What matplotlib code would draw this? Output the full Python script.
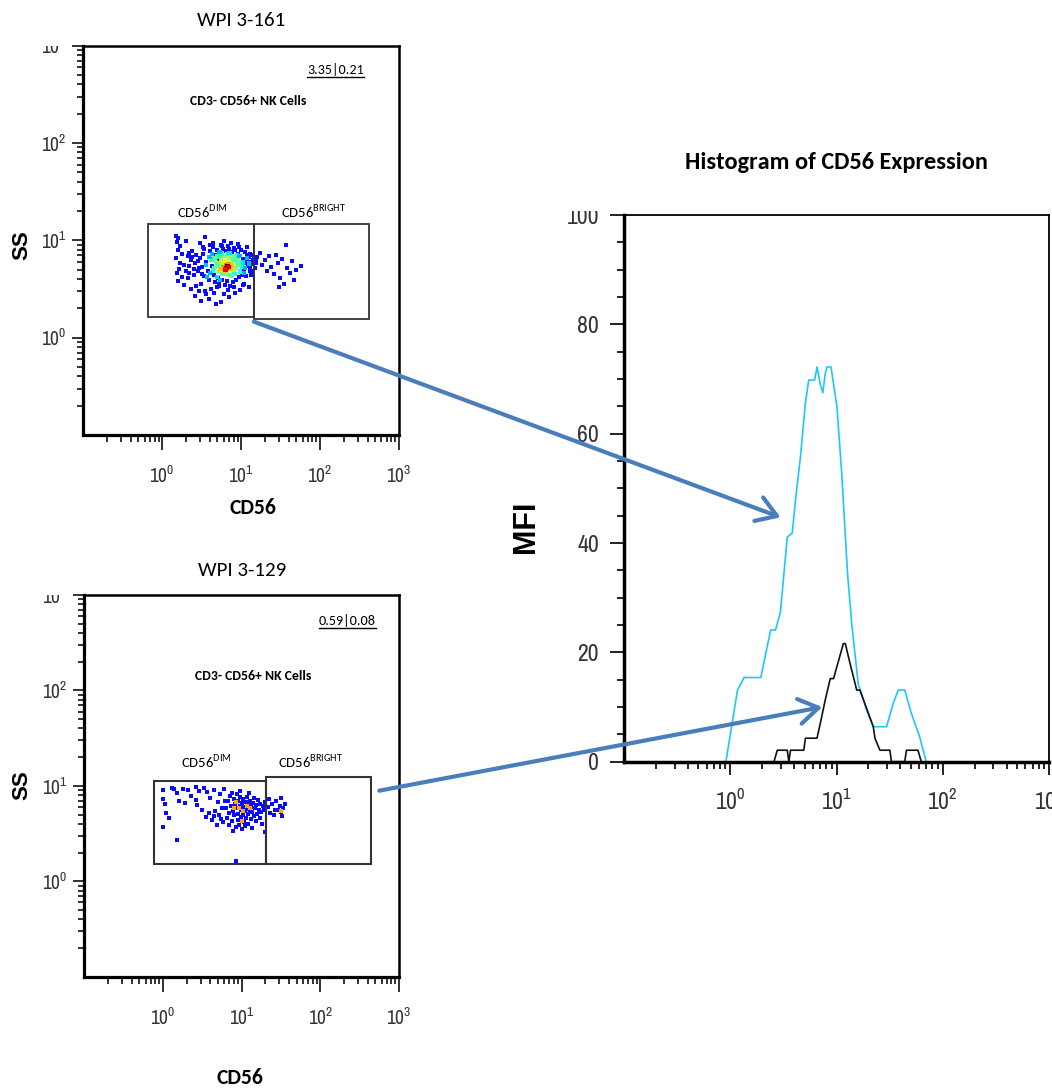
import matplotlib
matplotlib.use("Agg")
import matplotlib.pyplot as plt
import numpy as np
from matplotlib.patches import Rectangle, ConnectionPatch
from matplotlib.ticker import FixedLocator, LogLocator, NullFormatter, FuncFormatter, MultipleLocator
from matplotlib.transforms import Bbox, TransformedBbox
from matplotlib.lines import Line2D

NARROW = ['Liberation Sans Narrow', 'Archivo Narrow', 'DejaVu Sans']
CALI = ['Carlito', 'Lato', 'DejaVu Sans']
ARIAL = ['Liberation Sans', 'DejaVu Sans']

# ---------------- data ----------------
# WPI 3-161 : CD56 vs SS events (blue = low density, core coloured by density level)
top_x = [1.5, 1.6, 1.55, 1.7, 1.6, 1.8, 1.5, 1.7, 1.65, 1.55, 1.8, 1.6, 1.9, 2.0, 2.1, 2.2, 2.0, 2.3, 2.4, 2.6,
         2.5, 2.8, 2.9, 3.1, 3.3, 3.0, 3.6, 3.9, 4.2, 4.5, 4.8, 5.2, 3.5, 4.4, 5.5, 6.1, 6.8, 7.4, 8.2, 9.0,
         10.1, 11.2, 12.5, 11.0, 9.6, 8.3, 7.1, 6.0, 5.6, 12.0, 13.5, 14.5, 15.2, 14.8, 16.0, 17.5, 18.5, 19.8, 21.0, 22.5,
         24.0, 26.0, 27.5, 29.0, 31.0, 33.0, 35.0, 38.0, 41.0, 44.0, 47.0, 50.0, 58.0, 37.0, 30.0,
         2.6, 2.8, 3.0, 3.2, 3.4, 3.3, 3.6, 3.8, 3.9, 4.0, 4.1, 4.3, 4.5, 4.6, 4.7, 4.9, 5.0, 5.1, 5.3, 5.5,
         5.7, 5.9, 6.2, 6.4, 6.7, 7.0, 7.3, 7.6, 7.9, 8.4, 8.7, 9.1, 9.4, 9.8, 10.2, 10.5, 10.9, 11.3, 11.8, 12.2,
         12.8, 13.2, 12.6, 11.5, 2.3, 2.5, 2.7, 3.1, 13.8, 14.2, 2.2, 2.9, 3.7, 4.9, 13.0, 15.6, 12.9, 14.0,
         1.9, 2.4, 2.1, 3.4, 2.7, 3.2, 4.4, 5.8, 6.9, 8.0, 9.3, 10.7, 11.9, 13.4, 15.0, 2.2, 3.5, 4.0]
top_y = [11.2, 10.5, 9.6, 8.8, 7.9, 7.2, 6.6, 5.9, 5.1, 4.6, 4.2, 3.8, 3.5, 9.9, 6.9, 5.4, 4.9, 3.2, 7.8, 2.7,
         4.4, 6.2, 3.0, 2.4, 8.6, 9.4, 2.8, 2.5, 3.2, 2.9, 2.2, 3.4, 10.8, 9.5, 9.0, 9.8, 8.7, 9.3, 8.4, 9.1,
         8.0, 7.6, 3.3, 3.6, 3.1, 2.9, 2.6, 2.8, 2.3, 8.5, 7.0, 6.5, 5.9, 5.2, 6.8, 7.5, 5.6, 6.3, 4.9, 6.9,
         5.3, 4.5, 7.1, 5.9, 4.1, 6.4, 3.6, 5.2, 4.6, 6.1, 3.9, 5.0, 5.5, 8.9, 3.3,
         5.8, 4.9, 6.6, 5.3, 4.3, 7.3, 6.0, 4.8, 3.9, 7.7, 6.5, 5.5, 4.4, 3.7, 7.0, 6.1, 8.0, 4.1, 3.6, 7.4,
         3.9, 8.1, 3.5, 7.8, 3.8, 8.2, 3.4, 7.6, 3.7, 7.9, 3.9, 7.3, 4.2, 6.9, 4.4, 6.4, 5.0, 5.8, 6.2, 5.5,
         4.8, 6.0, 6.8, 4.3, 6.3, 5.1, 7.0, 3.6, 5.7, 6.3, 4.6, 5.2, 4.2, 3.3, 7.2, 6.1, 5.3, 4.9,
         5.6, 6.7, 4.1, 8.1, 3.4, 4.5, 8.6, 8.8, 3.1, 3.3, 8.6, 3.5, 7.1, 4.4, 6.1, 7.4, 3.0, 9.0]
top_core_x = [4.2, 4.6, 5.0, 5.2, 5.4, 5.6, 5.8, 6.0, 6.2, 6.3, 6.5, 6.8, 7.0, 7.2, 7.5, 7.8, 8.0, 8.3, 8.6, 9.0,
              9.3, 9.7, 10.0, 10.4, 4.8, 5.7, 6.6, 8.8, 4.4, 7.6,
              3.6, 3.9, 4.0, 4.3, 4.9, 5.3, 5.1, 5.9, 6.6, 7.1, 7.9, 8.2, 8.9, 9.5, 10.6, 11.2, 11.8, 10.8, 3.7, 4.6,
              5.4, 12.5,
              5.9, 6.4, 6.9, 7.3, 6.1, 7.7, 5.5, 6.5, 6.7, 6.3, 7.0]
top_core_y = [6.3, 5.2, 6.8, 4.7, 5.8, 6.5, 4.5, 5.6, 6.9, 4.8, 6.1, 5.0, 6.6, 4.4, 5.8, 6.8, 4.9, 6.1, 5.2, 6.5,
              5.6, 4.8, 6.0, 5.3, 5.9, 7.3, 7.2, 7.0, 4.9, 4.3,
              5.6, 6.7, 4.6, 7.2, 4.2, 7.6, 5.5, 6.1, 4.5, 7.4, 6.3, 4.5, 5.8, 6.9, 5.9, 5.2, 6.6, 4.6, 4.2, 6.6,
              3.9, 5.8,
              5.3, 5.5, 5.7, 5.1, 4.9, 5.5, 5.1, 5.2, 5.4, 5.0, 5.3]
top_core_lvl = [0.40, 0.45, 0.40, 0.50, 0.55, 0.50, 0.45, 0.60, 0.50, 0.55, 0.65, 0.60, 0.55, 0.45, 0.60, 0.50, 0.55, 0.55, 0.50, 0.45,
                0.50, 0.40, 0.45, 0.40, 0.50, 0.40, 0.45, 0.40, 0.40, 0.45,
                0.32, 0.30, 0.30, 0.30, 0.35, 0.30, 0.45, 0.60, 0.50, 0.35, 0.45, 0.40, 0.45, 0.30, 0.35, 0.30, 0.30, 0.30, 0.30, 0.45,
                0.30, 0.32,
                0.75, 0.80, 0.75, 0.70, 0.70, 0.70, 0.70, 0.95, 1.00, 0.90, 0.92]

# WPI 3-129
bot_x = [1.0, 1.0, 1.05, 1.0, 1.1, 1.2, 1.3, 1.4, 1.5, 1.52, 1.6, 1.8, 1.9, 2.1, 2.3, 2.6, 2.7, 2.6, 2.9, 3.1,
         3.3, 3.6, 3.5, 3.8, 4.0, 4.2, 4.4, 4.6, 4.8, 5.0, 5.2, 5.3, 5.6, 5.8, 6.0, 6.1, 8.6, 4.5, 5.5,
         6.3, 6.5, 6.7, 6.9, 7.0, 7.2, 7.4, 7.5, 7.7, 7.8, 8.0, 8.1, 8.3, 8.4, 8.6, 8.7, 8.9, 9.0, 9.1, 9.3,
         9.4, 9.6, 9.7, 9.9, 10.0, 10.1, 10.3, 10.4, 10.6, 10.8, 10.9, 11.1, 11.3, 11.4, 11.6, 11.8, 12.0, 12.2, 12.4, 12.6,
         12.8, 13.0, 13.3, 13.5, 13.7, 14.0, 14.2, 14.5, 14.8, 15.1, 15.4, 15.8, 16.1, 16.5, 16.9, 17.3, 17.8, 18.2, 18.7, 19.2,
         19.8, 20.0, 9.5, 7.6, 12.3, 21.5, 23.0, 24.5, 26.0, 27.0, 29.0, 31.0, 31.5, 32.0, 33.0, 34.0, 36.0, 26.5, 22.0]
bot_y = [9.0, 7.2, 6.5, 3.7, 5.2, 4.6, 9.4, 9.3, 8.5, 2.7, 7.0, 9.2, 6.6, 9.0, 7.8, 9.8, 6.3, 7.1, 8.9, 5.6,
         9.5, 8.6, 4.7, 5.2, 7.4, 4.4, 9.0, 5.5, 3.9, 6.7, 4.9, 8.3, 5.9, 4.2, 9.2, 7.0, 1.65, 4.8, 4.5,
         5.8, 4.6, 6.9, 3.9, 5.2, 7.9, 6.1, 4.3, 3.4, 5.5, 7.3, 4.9, 6.4, 3.7, 5.8, 8.2, 4.4, 6.9, 5.1, 3.9,
         6.2, 7.6, 4.7, 5.6, 3.5, 6.6, 5.0, 7.2, 4.2, 6.0, 5.4, 3.8, 6.8, 4.6, 5.7, 7.7, 5.1, 4.0, 6.3, 5.5,
         7.0, 4.5, 6.0, 3.6, 5.3, 6.6, 4.8, 7.4, 5.8, 4.3, 6.3, 5.1, 7.1, 5.6, 4.6, 6.5, 5.3, 4.0, 6.1, 5.6,
         6.8, 3.3, 8.8, 8.5, 8.4, 6.0, 5.2, 6.5, 4.9, 7.0, 5.6, 6.2, 5.3, 7.5, 4.8, 5.9, 6.4, 5.6, 7.3]
bot_hi_x = [9.2, 10.5, 11.7, 10.2, 8.5, 31.5, 7.9, 12.9]
bot_hi_y = [5.9, 5.5, 6.2, 4.3, 6.8, 5.5, 5.9, 5.8]

# gates (x0, y0, x1, y1)
top_gates = [(0.67, 1.64, 14.4, 14.7), (14.4, 1.56, 417, 14.7)]
bot_gates = [(0.78, 1.53, 20.4, 11.2), (20.4, 1.53, 436, 12.4)]

# histogram of CD56 expression
cyan_x = [0.91, 1.17, 1.35, 1.94, 2.40, 2.67, 2.97, 3.20, 3.44, 3.83, 4.11, 4.58, 5.09, 5.47, 6.22, 6.56,
          7.04, 7.44, 7.84, 8.12, 8.88, 10.1, 11.2, 12.7, 13.9, 16.0, 19.2, 22.2, 29.6, 34.2, 38.1, 43.9,
          50.7, 60.5, 69.9]
cyan_y = [0, 13.1, 15.4, 15.4, 24.1, 24.1, 27.4, 34.4, 41.1, 41.8, 47.8, 55.8, 65.5, 69.8, 69.8, 72.2,
          69.0, 67.5, 71.0, 72.2, 72.2, 64.9, 52.7, 34.4, 25.3, 14.3, 9.45, 6.4, 6.4, 10.7, 13.1, 13.1,
          8.8, 4.6, 0]
black_x = [2.58, 2.77, 3.44, 3.56, 3.69, 4.92, 5.10, 6.55, 7.04, 7.84, 8.73, 9.38, 11.6, 12.1, 13.4,
           15.5, 16.6, 22.2, 23.0, 25.6, 31.8, 32.9, 43.9, 45.5, 58.4, 62.8]
black_y = [0, 2.1, 2.1, 0, 2.1, 2.1, 4.3, 4.3, 7.0, 11.3, 15.2, 15.2, 21.6, 21.6, 18.0,
           13.1, 13.1, 6.4, 4.3, 2.1, 2.1, 0, 0, 2.1, 2.1, 0]

# ---------------- figure ----------------
W, H = 1052, 1090
fig = plt.figure(figsize=(W / 100, H / 100), dpi=100)


def px_axes(l, t, r, b):
    return fig.add_axes([l / W, 1 - b / H, (r - l) / W, (b - t) / H])


def pow_fmt(v, pos):
    return r'$\mathregular{10^{%d}}$' % int(round(np.log10(v)))


def style_scatter(ax):
    ax.set_xscale('log')
    ax.set_yscale('log')
    ax.set_xlim(0.1, 1000)
    ax.set_ylim(0.1, 1000)
    ax.xaxis.set_major_locator(FixedLocator([1, 10, 100, 1000]))
    ax.yaxis.set_major_locator(FixedLocator([1, 10, 100, 1000]))
    for a in (ax.xaxis, ax.yaxis):
        a.set_minor_locator(LogLocator(base=10, subs=np.arange(2, 10)))
        a.set_minor_formatter(NullFormatter())
        a.set_major_formatter(FuncFormatter(pow_fmt))
    ax.tick_params(which='both', direction='out', color='#222222', width=1.3,
                   labelcolor='#333333', labelsize=14, labelfontfamily=NARROW)
    ax.tick_params(axis='x', which='major', length=11, pad=11)
    ax.tick_params(axis='x', which='minor', length=5)
    ax.tick_params(axis='y', which='major', length=8, pad=4)
    ax.tick_params(axis='y', which='minor', length=4)
    for s in ['left', 'bottom']:
        ax.spines[s].set_linewidth(2.3)
    for s in ['top', 'right']:
        ax.spines[s].set_linewidth(1.8)


def clip_top_labels(ax, extra=0.0):
    # the source panels are cropped right at the top of the frame
    top = ax.get_position().y1 + extra
    box = TransformedBbox(Bbox([[0, 0], [1, top]]), fig.transFigure)
    for lab in ax.yaxis.get_majorticklabels():
        lab.set_clip_box(box)
        lab.set_clip_on(True)


jet = plt.get_cmap('jet')
blue = '#0a0aff'

# ---- top scatter ----
ax1 = px_axes(83.3, 45.7, 399, 435)
style_scatter(ax1)
ax1.scatter(top_x, top_y, s=7, marker='s', c=blue, linewidths=0)
ax1.scatter(top_core_x, top_core_y, s=10, marker='s', c=jet(np.array(top_core_lvl)), linewidths=0)
for x0, y0, x1, y1 in top_gates:
    ax1.add_patch(Rectangle((x0, y0), x1 - x0, y1 - y0, fill=False, ec='#333333', lw=1.3))
ax1.text(3.2, 20, r'CD56$^{\mathregular{DIM}}$', ha='center', va='center', fontsize=10.5, family=CALI)
ax1.text(82, 20, r'CD56$^{\mathregular{BRIGHT}}$', ha='center', va='center', fontsize=10.5, family=CALI)
ax1.text(0.521, 0.858, 'CD3- CD56+ NK Cells', transform=ax1.transAxes, ha='center', va='center',
         fontsize=9.9, fontweight='bold', family=CALI)
st1 = ax1.text(0.80, 0.9376, '3.35|0.21', transform=ax1.transAxes, ha='center', va='center',
               fontsize=10.2, family=CALI)
ax1.set_title('WPI 3-161', fontsize=15, family=CALI, pad=14)
ax1.set_xlabel('CD56', fontsize=15.5, fontweight='bold', family=CALI)
ax1.xaxis.set_label_coords(0.5375, -0.162)
ax1.set_ylabel('SS', fontsize=16, fontweight='bold', family=ARIAL)
ax1.yaxis.set_label_coords(-0.1625, 0.488)

# ---- bottom scatter ----
ax2 = px_axes(84.3, 595, 399, 976.7)
style_scatter(ax2)
ax2.scatter(bot_x, bot_y, s=6, marker='s', c=blue, linewidths=0)
ax2.scatter(bot_hi_x, bot_hi_y, s=6, marker='s', c='#ffa500', linewidths=0)
for x0, y0, x1, y1 in bot_gates:
    ax2.add_patch(Rectangle((x0, y0), x1 - x0, y1 - y0, fill=False, ec='#333333', lw=1.5))
ax2.text(3.6, 18.4, r'CD56$^{\mathregular{DIM}}$', ha='center', va='center', fontsize=10.5, family=CALI)
ax2.text(75, 18.4, r'CD56$^{\mathregular{BRIGHT}}$', ha='center', va='center', fontsize=10.5, family=CALI)
ax2.text(0.536, 0.788, 'CD3- CD56+ NK Cells', transform=ax2.transAxes, ha='center', va='center',
         fontsize=9.9, fontweight='bold', family=CALI)
st2 = ax2.text(0.835, 0.9345, '0.59|0.08', transform=ax2.transAxes, ha='center', va='center',
               fontsize=10.2, family=CALI)
ax2.set_title('WPI 3-129', fontsize=15, family=CALI, pad=14)
ax2.set_xlabel('CD56', fontsize=15.5, fontweight='bold', family=CALI)
ax2.xaxis.set_label_coords(0.495, -0.24)
ax2.set_ylabel('SS', fontsize=16, fontweight='bold', family=ARIAL)
ax2.yaxis.set_label_coords(-0.166, 0.502)

# ---- histogram ----
ax3 = px_axes(624, 215, 1049, 761.7)
ax3.plot(cyan_x, cyan_y, color='#1ec8f5', lw=1.2)
ax3.plot(black_x, black_y, color='#111111', lw=1.2)
ax3.set_xscale('log')
ax3.set_xlim(0.1, 1000)
ax3.set_ylim(0, 100)
ax3.xaxis.set_major_locator(FixedLocator([1, 10, 100, 1000]))
ax3.xaxis.set_minor_locator(LogLocator(base=10, subs=np.arange(2, 10)))
ax3.xaxis.set_minor_formatter(NullFormatter())
ax3.xaxis.set_major_formatter(FuncFormatter(pow_fmt))
ax3.yaxis.set_major_locator(MultipleLocator(20))
ax3.yaxis.set_minor_locator(MultipleLocator(5))
ax3.tick_params(which='both', direction='out', color='#111111', width=1.3,
                labelcolor='#333333', labelsize=17, labelfontfamily=NARROW)
ax3.tick_params(axis='x', which='major', length=9, pad=10)
ax3.tick_params(axis='x', which='minor', length=5)
ax3.tick_params(axis='y', which='major', length=10, pad=8)
ax3.tick_params(axis='y', which='minor', length=5)
ax3.spines['left'].set_linewidth(2.5)
ax3.spines['bottom'].set_linewidth(2.5)
ax3.spines['top'].set_linewidth(1.3)
ax3.spines['right'].set_linewidth(1.3)
ax3.set_title('Histogram of CD56 Expression', fontsize=17.5, fontweight='bold', family=CALI, pad=33)
ax3.set_ylabel('MFI', fontsize=22, fontweight='bold', family=ARIAL)
ax3.yaxis.set_label_coords(-0.195, 0.429)

fig.canvas.draw()
clip_top_labels(ax1)
clip_top_labels(ax2)
clip_top_labels(ax3, extra=4 / H)

# underline the gate statistics
inv = fig.transFigure.inverted()
for t in (st1, st2):
    bb = t.get_window_extent()
    (fx0, fy0), (fx1, _) = inv.transform([[bb.x0, bb.y0 - 1], [bb.x1, bb.y0]])
    fig.add_artist(Line2D([fx0, fx1], [fy0, fy0], transform=fig.transFigure, color='black', lw=1.0))

# arrows from gates to histogram curves
arrow_color = '#4a7ebb'
for src_ax, src, dst in [(ax1, (14.5, 1.46), (2.98, 44.7)), (ax2, (561, 8.9), (7.35, 10.0))]:
    con = ConnectionPatch(xyA=src, coordsA=src_ax.transData, xyB=dst, coordsB=ax3.transData,
                          arrowstyle='->,head_length=0.7,head_width=0.45', mutation_scale=20,
                          color=arrow_color, lw=3.0, zorder=5)
    fig.add_artist(con)

fig.savefig('out.png', dpi=100)
